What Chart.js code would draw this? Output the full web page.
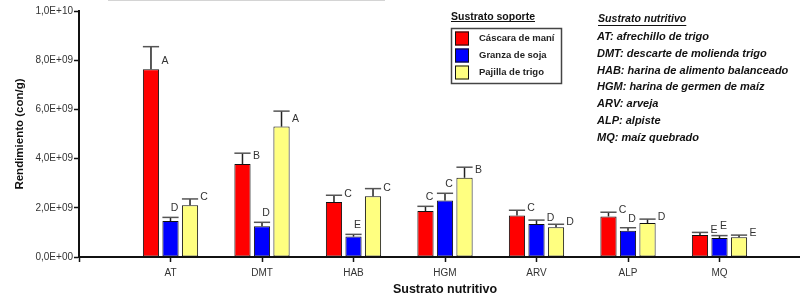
<!DOCTYPE html>
<html>
<head>
<meta charset="utf-8">
<script src="https://cdn.jsdelivr.net/npm/chart.js@4"></script>
<style>
  html, body { margin: 0; padding: 0; background: #fff; overflow: hidden; }
  #wrap { width: 820px; height: 294px; position: relative; }
</style>
</head>
<body>
<div id="wrap"><canvas id="chart"></canvas></div>
<script>
const categories = ['AT', 'DMT', 'HAB', 'HGM', 'ARV', 'ALP', 'MQ'];
const seriesNames = ['Cáscara de maní', 'Granza de soja', 'Pajilla de trigo'];
const seriesColors = ['#ff0000', '#0000ff', '#ffff80'];

// medias
const cascaraMani = [7.63e9, 3.78e9, 2.24e9, 1.87e9, 1.69e9, 1.65e9, 0.89e9];
const granzaSoja = [1.46e9, 1.25e9, 0.83e9, 2.30e9, 1.34e9, 1.07e9, 0.77e9];
const pajillaTrigo = [2.10e9, 5.30e9, 2.47e9, 3.22e9, 1.21e9, 1.38e9, 0.80e9];

// desvio (barra de error hacia arriba)
const errCascara = [0.92e9, 0.44e9, 0.27e9, 0.19e9, 0.21e9, 0.17e9, 0.11e9];
const errGranza = [0.15e9, 0.16e9, 0.09e9, 0.29e9, 0.16e9, 0.12e9, 0.10e9];
const errPajilla = [0.26e9, 0.63e9, 0.31e9, 0.43e9, 0.12e9, 0.16e9, 0.09e9];

// letras de significancia
const letrasCascara = ['A', 'B', 'C', 'C', 'C', 'C', 'E'];
const letrasGranza = ['D', 'D', 'E', 'C', 'D', 'D', 'E'];
const letrasPajilla = ['C', 'A', 'C', 'B', 'D', 'D', 'E'];

const yTicks = [0, 2e9, 4e9, 6e9, 8e9, 1e10];

const notesTitle = 'Sustrato nutritivo';
const notes = [
  'AT: afrechillo de trigo',
  'DMT: descarte de molienda trigo',
  'HAB: harina de alimento balanceado',
  'HGM: harina de germen de maíz',
  'ARV: arveja',
  'ALP: alpiste',
  'MQ: maíz quebrado'
];

const FONT = "'Liberation Sans', Arial, sans-serif";

// one empty slot on each side so the first group sits away from the y axis
const pad = arr => [null, ...arr, null];
const labels = ['', ...categories, ''];

const values = [cascaraMani, granzaSoja, pajillaTrigo];
const errors = [errCascara, errGranza, errPajilla];
const letters = [letrasCascara, letrasGranza, letrasPajilla];

const datasets = values.map((v, i) => ({
  label: seriesNames[i],
  data: pad(v),
  errors: pad(errors[i]),
  letters: pad(letters[i]),
  backgroundColor: seriesColors[i],
  borderColor: '#111',
  borderWidth: 1,
  borderSkipped: false,
  categoryPercentage: 0.64,
  barPercentage: 0.83
}));

function fmtExp(v) {
  let s = Number(v).toExponential(1).replace('.', ',').toUpperCase();
  return s.replace(/E([+-])(\d)$/, 'E$10$2');
}

const annotate = {
  id: 'annotate',
  afterDatasetsDraw(chart) {
    const ctx = chart.ctx;
    const y = chart.scales.y;
    const dsets = chart.data.datasets;
    ctx.save();
    dsets.forEach((ds, i) => {
      const meta = chart.getDatasetMeta(i);
      meta.data.forEach((bar, j) => {
        if (ds.data[j] == null) return;
        const top = y.getPixelForValue(ds.data[j] + ds.errors[j]);
        const half = bar.width / 2;
        // error bar
        ctx.strokeStyle = '#222';
        ctx.lineWidth = 1.5;
        ctx.beginPath();
        ctx.moveTo(bar.x, bar.y);
        ctx.lineTo(bar.x, top);
        ctx.stroke();
        ctx.strokeStyle = '#555';
        ctx.beginPath();
        ctx.moveTo(bar.x - half, top);
        ctx.lineTo(bar.x + half, top);
        ctx.stroke();
        // letter
        ctx.fillStyle = '#333';
        ctx.font = '10.5px ' + FONT;
        ctx.textAlign = 'center';
        ctx.textBaseline = 'middle';
        const next = dsets[i + 1];
        let lx, ly;
        if (next && next.data[j] + next.errors[j] >= ds.data[j] + ds.errors[j]) {
          lx = bar.x + 4;
          ly = top - 9;
        } else {
          lx = bar.x + half + 6;
          ly = Math.max(top - 2, bar.y - 8);
        }
        ctx.fillText(ds.letters[j], lx, ly);
      });
    });
    ctx.restore();
  },
  afterDraw(chart) {
    const ctx = chart.ctx;
    ctx.save();
    // faint line at the very top
    ctx.strokeStyle = '#d4d4d4';
    ctx.lineWidth = 2;
    ctx.beginPath();
    ctx.moveTo(108, 0);
    ctx.lineTo(385, 0);
    ctx.stroke();

    // legend
    ctx.fillStyle = '#111';
    ctx.font = 'bold 10.5px ' + FONT;
    ctx.textAlign = 'left';
    ctx.textBaseline = 'alphabetic';
    ctx.fillText('Sustrato soporte', 451, 19.5);
    let w = ctx.measureText('Sustrato soporte').width;
    ctx.strokeStyle = '#111';
    ctx.lineWidth = 1;
    ctx.beginPath();
    ctx.moveTo(451, 21.5);
    ctx.lineTo(451 + w, 21.5);
    ctx.stroke();

    ctx.strokeStyle = '#444';
    ctx.lineWidth = 1.5;
    ctx.strokeRect(451.5, 28.5, 110, 55);
    chart.data.datasets.forEach((ds, i) => {
      const sy = 31.5 + i * 17;
      ctx.fillStyle = ds.backgroundColor;
      ctx.fillRect(455, sy, 14, 14);
      ctx.strokeStyle = '#111';
      ctx.lineWidth = 1;
      ctx.strokeRect(455.5, sy + 0.5, 13, 13);
      ctx.fillStyle = '#222';
      ctx.font = 'bold 9.5px ' + FONT;
      ctx.textBaseline = 'middle';
      ctx.fillText(ds.label, 479, sy + 7);
    });

    // notes
    ctx.fillStyle = '#111';
    ctx.font = 'italic bold 10.6px ' + FONT;
    ctx.textBaseline = 'middle';
    ctx.fillText(notesTitle, 598, 19);
    w = ctx.measureText(notesTitle).width;
    ctx.beginPath();
    ctx.moveTo(598, 25.5);
    ctx.lineTo(598 + w, 25.5);
    ctx.stroke();
    ctx.font = 'italic bold 11px ' + FONT;
    notes.forEach((t, k) => {
      ctx.fillText(t, 597, 37 + k * 16.8);
    });
    ctx.restore();
  }
};

new Chart(document.getElementById('chart'), {
  type: 'bar',
  data: { labels: labels, datasets: datasets },
  options: {
    responsive: true,
    maintainAspectRatio: false,
    animation: false,
    events: [],
    layout: { padding: { top: 11, right: 9, bottom: 0, left: 0 } },
    plugins: { legend: { display: false }, tooltip: { enabled: false } },
    scales: {
      x: {
        offset: false,
        grid: { display: true, offset: false, drawOnChartArea: false, drawTicks: true, tickLength: 5, tickColor: '#111', tickWidth: 1.5 },
        border: { display: true, color: '#111', width: 2 },
        ticks: { autoSkip: false, maxRotation: 0, padding: 5, color: '#333', font: { family: FONT, size: 10 } },
        title: { display: true, text: 'Sustrato nutritivo', color: '#111', font: { family: FONT, size: 12.5, weight: 'bold', lineHeight: 0.7 }, padding: { top: 0, bottom: 0 } },
        afterFit(s) { s.height = 37; }
      },
      y: {
        min: 0,
        max: 1e10,
        afterBuildTicks(s) { s.ticks = yTicks.map(v => ({ value: v })); },
        grid: { display: true, drawOnChartArea: false, drawTicks: true, tickLength: 5, tickColor: '#111', tickWidth: 1.5 },
        border: { display: true, color: '#111', width: 2 },
        ticks: { padding: 1, color: '#333', font: { family: FONT, size: 10 }, callback: v => fmtExp(v) },
        title: { display: true, text: 'Rendimiento (con/g)', color: '#111', font: { family: FONT, size: 11.5, weight: 'bold', lineHeight: 1.2 }, padding: { top: 13, bottom: 0 } },
        afterFit(s) { s.width = 79; }
      }
    }
  },
  plugins: [annotate]
});
</script>
</body>
</html>
